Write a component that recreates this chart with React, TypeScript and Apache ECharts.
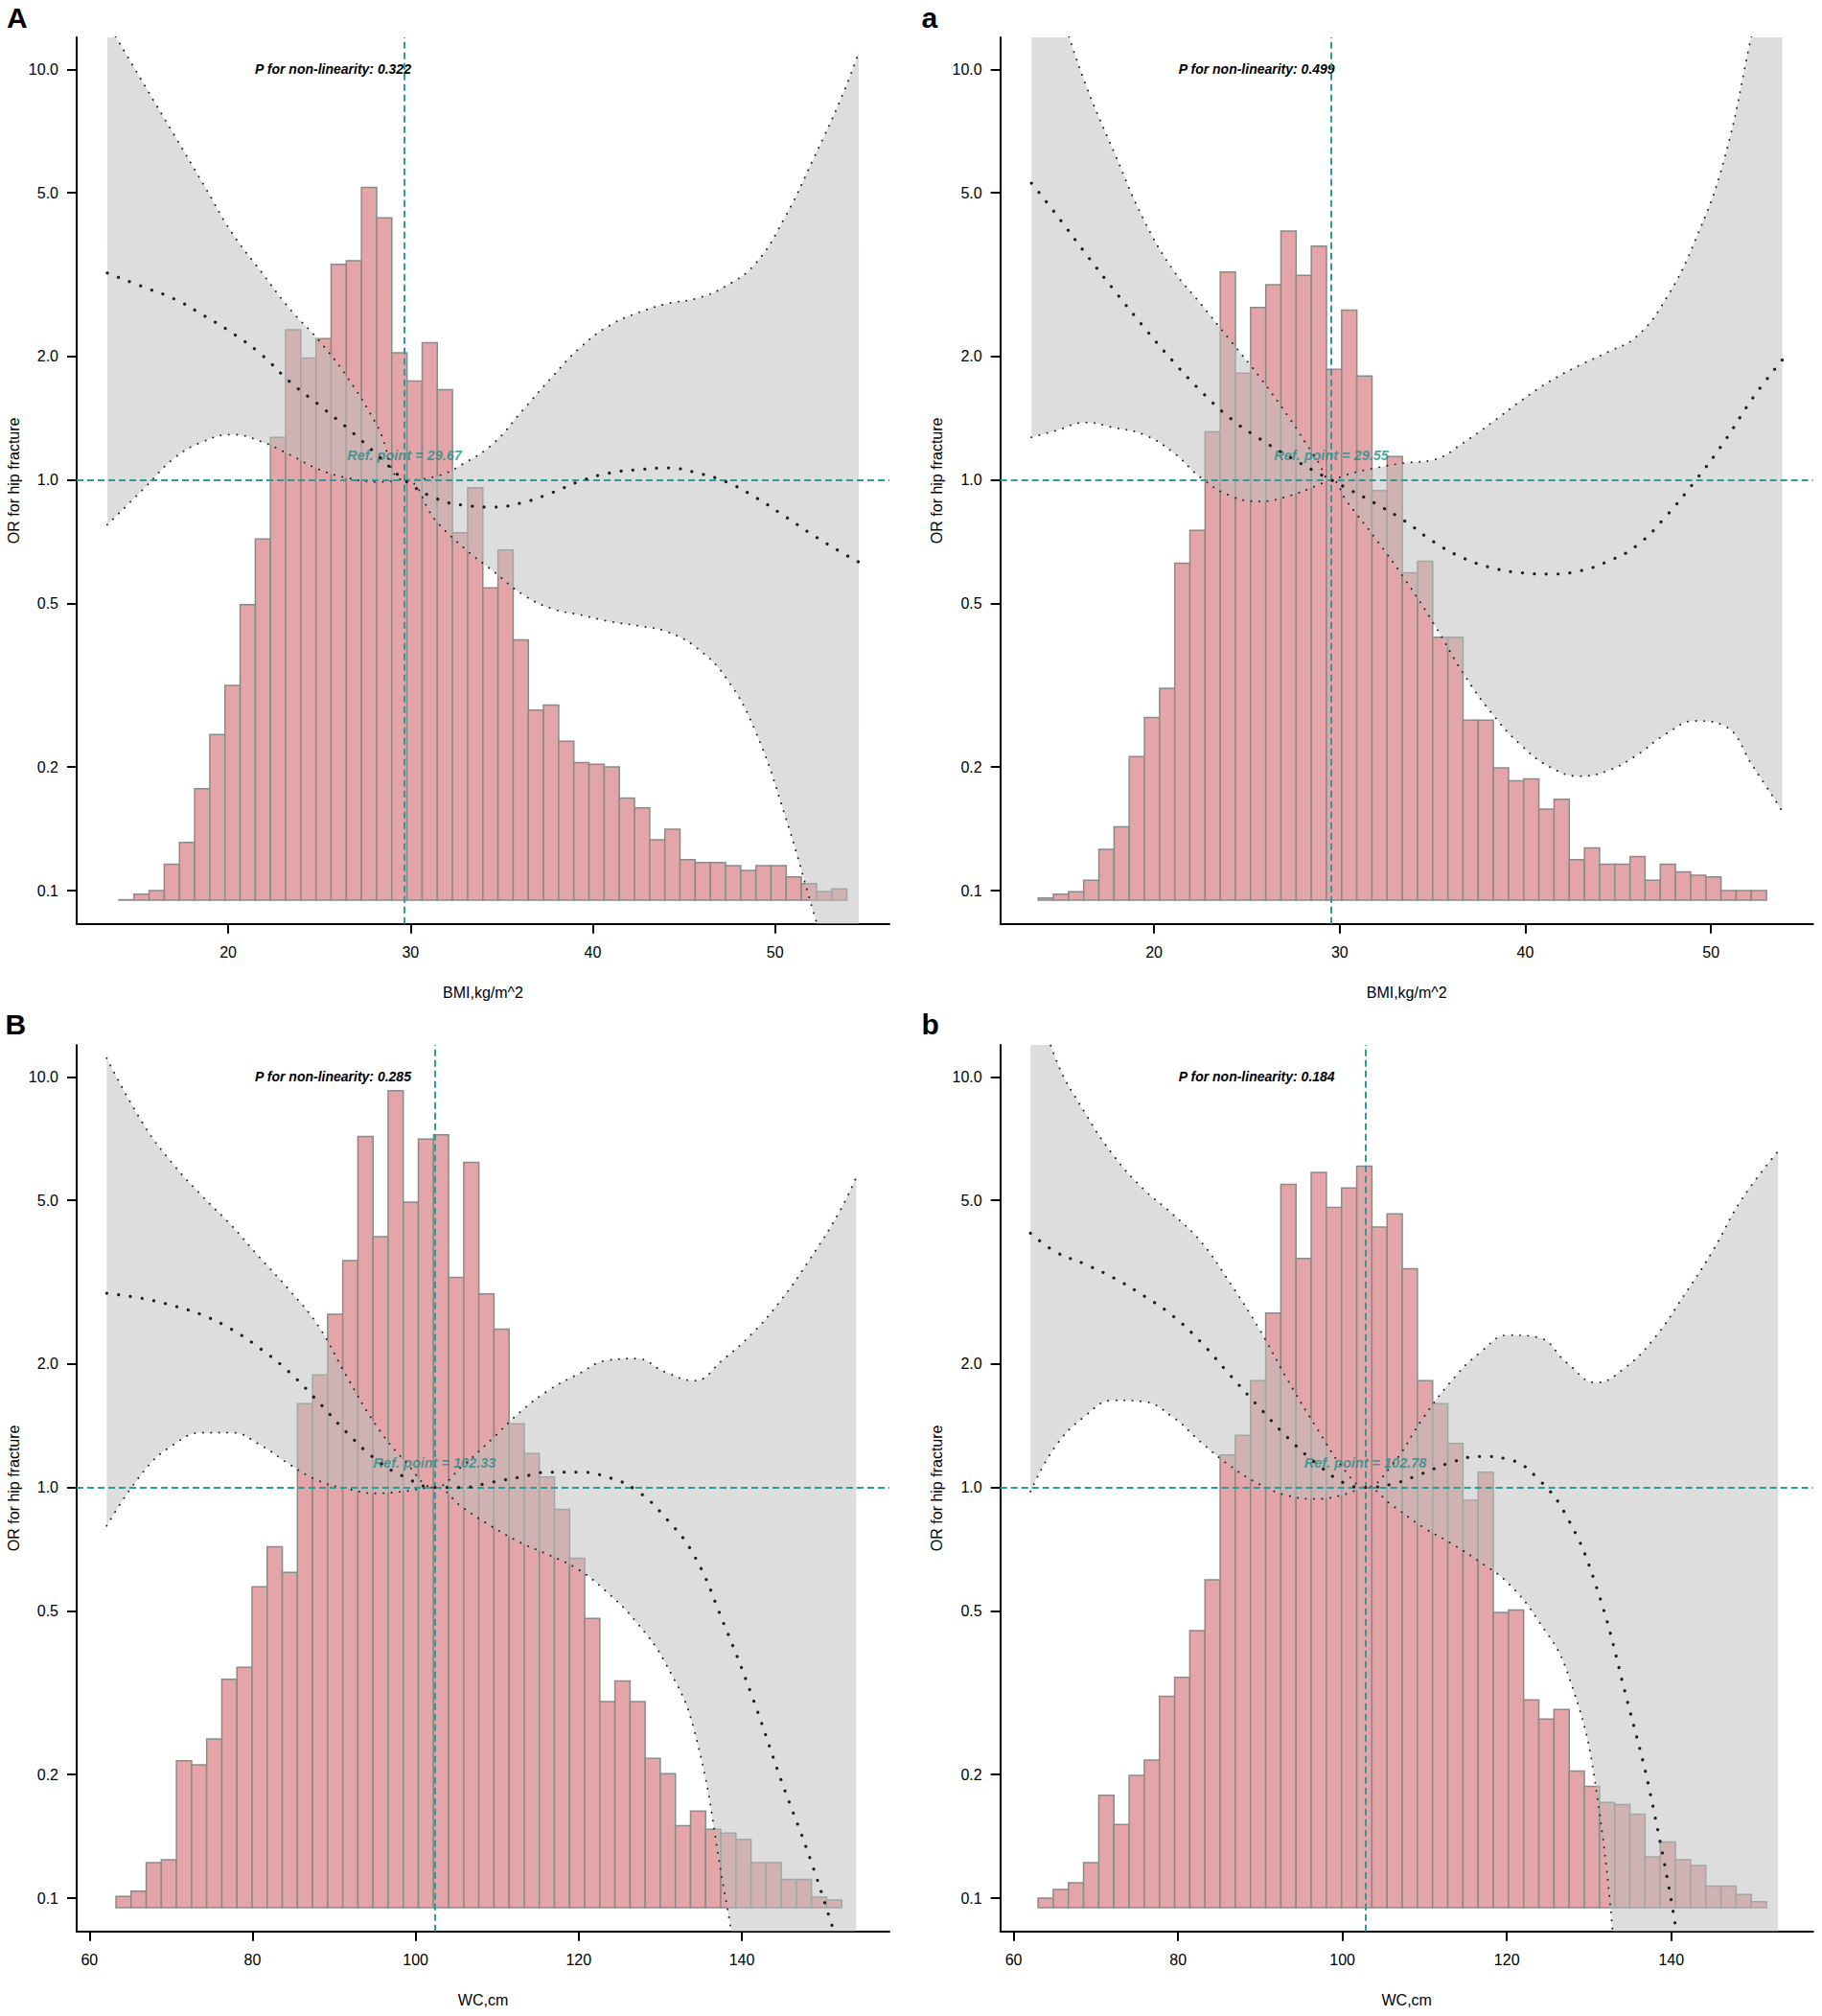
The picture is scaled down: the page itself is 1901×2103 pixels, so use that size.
import React, { useEffect, useRef } from "react";
import * as echarts from "echarts";

// ---------------- texts ----------------
const PANEL_LABELS = ["A", "a", "B", "b"];
const X_TITLES = ["BMI,kg/m^2", "BMI,kg/m^2", "WC,cm", "WC,cm"];
const Y_TITLE = "OR for hip fracture";
const P_VALUES = ["0.322", "0.499", "0.285", "0.184"];
const REF_POINTS = [29.67, 29.55, 102.33, 102.78];

// ---------------- axes ----------------
const OR_TICKS = [0.1, 0.2, 0.5, 1, 2, 5, 10];
const BMI_TICKS = [20, 30, 40, 50];
const WC_TICKS = [60, 80, 100, 120, 140];
const X_LIMITS = [
  [11.69, 56.27],
  [11.72, 55.5],
  [58.44, 158.1],
  [58.38, 157.25],
];
const OR_LIMITS = [0.083, 11.96];
const HIST_BASE = 0.0948;

// ---------------- histograms (heights read on the OR axis) ----------------
const HIST_A_START = 14.0;
const HIST_A_WIDTH = 0.832;
const HIST_A = [
  0.095, 0.098, 0.1, 0.116, 0.131, 0.177, 0.24, 0.316, 0.497, 0.718,
  1.27, 2.32, 1.98, 2.21, 3.35, 3.42, 5.16, 4.35, 2.04, 1.74,
  2.16, 1.66, 0.744, 0.958, 0.546, 0.675, 0.408, 0.275, 0.283, 0.231,
  0.205, 0.203, 0.2, 0.168, 0.159, 0.133, 0.141, 0.119, 0.117, 0.117,
  0.115, 0.112, 0.115, 0.115, 0.108, 0.104, 0.0995, 0.101,
];

const HIST_a_START = 13.76;
const HIST_a_WIDTH = 0.8173;
const HIST_a = [
  0.096, 0.098, 0.0993, 0.106, 0.126, 0.143, 0.212, 0.264, 0.311, 0.627,
  0.754, 1.31, 3.21, 1.82, 2.63, 2.99, 4.04, 3.15, 3.71, 1.86,
  2.59, 1.79, 0.942, 1.14, 0.594, 0.634, 0.414, 0.414, 0.26, 0.26,
  0.199, 0.185, 0.187, 0.158, 0.167, 0.119, 0.127, 0.116, 0.116, 0.121,
  0.106, 0.116, 0.111, 0.109, 0.108, 0.1, 0.1, 0.1,
];

const HIST_B_START = 63.26;
const HIST_B_WIDTH = 1.854;
const HIST_B = [
  0.101, 0.104, 0.122, 0.124, 0.216, 0.211, 0.244, 0.341, 0.365, 0.573,
  0.717, 0.621, 1.6, 1.88, 2.64, 3.57, 7.16, 4.08, 9.25, 4.95,
  7.05, 7.23, 3.25, 6.19, 2.96, 2.43, 1.43, 1.21, 1.06, 0.885,
  0.672, 0.48, 0.301, 0.338, 0.301, 0.219, 0.201, 0.15, 0.163, 0.147,
  0.144, 0.139, 0.122, 0.122, 0.111, 0.111, 0.1005, 0.099,
];

const HIST_b_START = 62.97;
const HIST_b_WIDTH = 1.846;
const HIST_b = [
  0.1, 0.105, 0.109, 0.122, 0.178, 0.151, 0.199, 0.217, 0.31, 0.345,
  0.448, 0.596, 1.2, 1.34, 1.82, 2.66, 5.47, 3.61, 5.85, 4.81,
  5.36, 6.06, 4.31, 4.64, 3.41, 1.82, 1.6, 1.28, 0.931, 1.09,
  0.496, 0.503, 0.304, 0.273, 0.288, 0.204, 0.187, 0.171, 0.169, 0.16,
  0.126, 0.137, 0.124, 0.12, 0.107, 0.107, 0.102, 0.098,
];

// ---------------- spline curves (OR with 95% CI) ----------------
const CURVE_A_X = [13.37, 15.44, 17.04, 18.63, 20.22, 21.82, 23.41, 25.0, 26.6, 28.19, 29.67, 31.39, 32.97, 34.57, 36.16, 37.76, 39.35, 40.94, 42.54, 44.13, 45.73, 47.32, 48.91, 50.51, 52.1, 53.69, 54.59];
const CURVE_A_OR = [3.19, 2.94, 2.76, 2.52, 2.28, 2.02, 1.73, 1.52, 1.33, 1.15, 1.0, 0.902, 0.867, 0.859, 0.881, 0.931, 0.995, 1.04, 1.06, 1.07, 1.04, 0.989, 0.908, 0.817, 0.733, 0.664, 0.631];
const CURVE_A_UPPER = [13.0, 9.1, 6.92, 5.26, 3.99, 3.21, 2.6, 2.18, 1.76, 1.35, 1.0, 1.02, 1.1, 1.23, 1.48, 1.78, 2.11, 2.38, 2.56, 2.69, 2.77, 2.97, 3.36, 4.34, 6.05, 8.65, 11.0];
const CURVE_A_LOWER = [0.778, 0.959, 1.13, 1.24, 1.29, 1.24, 1.15, 1.06, 1.01, 0.989, 1.0, 0.796, 0.681, 0.598, 0.526, 0.486, 0.469, 0.452, 0.441, 0.426, 0.389, 0.329, 0.245, 0.154, 0.0887, 0.0509, 0.0363];

const CURVE_a_X = [13.4, 14.75, 16.31, 17.87, 19.44, 21.0, 22.56, 24.13, 25.69, 27.26, 28.82, 29.55, 30.38, 31.95, 33.51, 35.08, 36.64, 38.2, 39.77, 41.33, 42.9, 44.46, 46.02, 47.59, 49.15, 50.72, 52.28, 53.84];
const CURVE_a_OR = [5.28, 4.42, 3.56, 2.89, 2.36, 1.95, 1.64, 1.41, 1.26, 1.14, 1.04, 1.0, 0.955, 0.875, 0.794, 0.706, 0.646, 0.611, 0.594, 0.59, 0.6, 0.634, 0.693, 0.817, 0.995, 1.24, 1.59, 1.96];
const CURVE_a_UPPER = [22.0, 14.8, 9.2, 6.25, 4.31, 3.26, 2.67, 2.18, 1.78, 1.42, 1.11, 1.0, 1.03, 1.07, 1.1, 1.12, 1.23, 1.38, 1.56, 1.74, 1.9, 2.05, 2.24, 2.77, 3.83, 6.05, 12.6, 24.7];
const CURVE_a_LOWER = [1.27, 1.32, 1.38, 1.34, 1.29, 1.17, 1.01, 0.914, 0.887, 0.914, 0.971, 1.0, 0.887, 0.718, 0.573, 0.446, 0.339, 0.27, 0.226, 0.2, 0.19, 0.196, 0.214, 0.241, 0.259, 0.252, 0.2, 0.156];

const CURVE_B_X = [62.13, 66.74, 70.29, 73.84, 77.39, 80.94, 84.49, 88.03, 91.58, 95.13, 98.68, 102.33, 105.78, 109.33, 112.87, 116.42, 119.97, 123.52, 127.07, 130.62, 134.17, 137.71, 141.26, 144.81, 148.36, 151.91, 154.04];
const CURVE_B_OR = [2.97, 2.88, 2.77, 2.63, 2.43, 2.18, 1.91, 1.62, 1.36, 1.17, 1.06, 1.0, 1.0, 1.03, 1.06, 1.09, 1.09, 1.06, 0.984, 0.845, 0.682, 0.47, 0.31, 0.194, 0.125, 0.0759, 0.0562];
const CURVE_B_UPPER = [11.1, 7.6, 6.12, 5.12, 4.35, 3.62, 3.03, 2.48, 1.86, 1.42, 1.16, 1.0, 1.13, 1.31, 1.53, 1.73, 1.89, 2.04, 2.06, 1.91, 1.82, 2.05, 2.37, 2.86, 3.6, 4.67, 5.7];
const CURVE_B_LOWER = [0.807, 1.1, 1.27, 1.36, 1.36, 1.27, 1.14, 1.04, 0.993, 0.968, 0.979, 1.0, 0.893, 0.804, 0.734, 0.684, 0.631, 0.555, 0.47, 0.374, 0.256, 0.108, 0.0406, 0.0131, 0.00437, 0.00123, 0.00055];

const CURVE_b_X = [62.05, 65.09, 68.63, 72.16, 75.7, 79.24, 82.77, 86.31, 89.84, 93.38, 96.92, 100.45, 102.78, 106.11, 109.65, 113.18, 116.72, 120.25, 123.79, 127.33, 130.86, 134.4, 137.94, 141.47, 145.01, 148.54, 153.0];
const CURVE_b_OR = [4.16, 3.75, 3.5, 3.24, 2.94, 2.63, 2.26, 1.88, 1.57, 1.32, 1.14, 1.02, 1.0, 1.02, 1.08, 1.15, 1.19, 1.17, 1.05, 0.846, 0.575, 0.316, 0.161, 0.063, 0.0158, 0.005, 0.001];
const CURVE_b_UPPER = [17.7, 11.1, 8.2, 6.43, 5.35, 4.65, 3.97, 3.15, 2.44, 1.82, 1.39, 1.09, 1.0, 1.14, 1.46, 1.81, 2.13, 2.35, 2.32, 2.01, 1.8, 1.96, 2.31, 2.92, 3.76, 5.02, 6.59];
const CURVE_b_LOWER = [0.978, 1.26, 1.49, 1.63, 1.62, 1.49, 1.29, 1.13, 1.02, 0.955, 0.938, 0.964, 1.0, 0.903, 0.804, 0.732, 0.659, 0.582, 0.475, 0.356, 0.184, 0.0398, 0.0113, 0.00316, 0.001, 0.000316, 0.0001];

// ---------------- layout & style ----------------
const CHART_W = 1901;
const CHART_H = 2103;
const GRID_LEFT = [80, 1043.7, 80, 1043.7];
const GRID_TOP = [39, 39, 1090, 1090];
const PLOT_W = 848;
const PLOT_H = 924.7;
const PANEL_TOP = [0, 0, 1050, 1050];
const LETTER_X = [7, 961.5, 5.5, 961.5];

const FONT = '"Liberation Sans", Arial, Helvetica, sans-serif';
const PINK = "#E3A5A8";
const BAR_EDGE = "#8A8A8A";
const BAND = "rgb(190,190,190)";
const TEAL = "#2F9B96";
const TEAL_TEXT = "#1F8E88";
const DOT = "#1E1E1E";

const L = (v: number) => Math.log10(v);

const PANELS = [
  { hist: HIST_A, start: HIST_A_START, width: HIST_A_WIDTH, x: CURVE_A_X, or: CURVE_A_OR, hi: CURVE_A_UPPER, lo: CURVE_A_LOWER, ticks: BMI_TICKS },
  { hist: HIST_a, start: HIST_a_START, width: HIST_a_WIDTH, x: CURVE_a_X, or: CURVE_a_OR, hi: CURVE_a_UPPER, lo: CURVE_a_LOWER, ticks: BMI_TICKS },
  { hist: HIST_B, start: HIST_B_START, width: HIST_B_WIDTH, x: CURVE_B_X, or: CURVE_B_OR, hi: CURVE_B_UPPER, lo: CURVE_B_LOWER, ticks: WC_TICKS },
  { hist: HIST_b, start: HIST_b_START, width: HIST_b_WIDTH, x: CURVE_b_X, or: CURVE_b_OR, hi: CURVE_b_UPPER, lo: CURVE_b_LOWER, ticks: WC_TICKS },
];

function buildOption() {
  const grids: any[] = [];
  const xAxes: any[] = [];
  const yAxes: any[] = [];
  const series: any[] = [];
  const graphics: any[] = [];
  const yTickVals = OR_TICKS.map(L);
  const SM = 0.45;

  PANELS.forEach((p, i) => {
    grids.push({
      left: GRID_LEFT[i],
      top: GRID_TOP[i],
      width: PLOT_W,
      height: PLOT_H,
      containLabel: false,
      outerBoundsMode: "none",
    });
    xAxes.push({
      type: "value",
      gridIndex: i,
      min: X_LIMITS[i][0],
      max: X_LIMITS[i][1],
      axisLine: { show: true, onZero: false, lineStyle: { color: "#000", width: 2 } },
      axisTick: { show: true, length: 10, lineStyle: { color: "#000", width: 2 }, customValues: p.ticks },
      axisLabel: { show: true, customValues: p.ticks, margin: 22, color: "#000", fontSize: 16, fontFamily: FONT },
      splitLine: { show: false },
      name: X_TITLES[i],
      nameLocation: "middle",
      nameGap: 64,
      nameTextStyle: { color: "#000", fontSize: 16, fontFamily: FONT },
    });
    yAxes.push({
      type: "value",
      gridIndex: i,
      min: L(OR_LIMITS[0]),
      max: L(OR_LIMITS[1]),
      axisLine: { show: true, onZero: false, lineStyle: { color: "#000", width: 2 } },
      axisTick: { show: true, length: 10, lineStyle: { color: "#000", width: 2 }, customValues: yTickVals },
      axisLabel: {
        show: true,
        customValues: yTickVals,
        margin: 19,
        color: "#000",
        fontSize: 16,
        fontFamily: FONT,
        formatter: (v: number) => Math.pow(10, v).toFixed(1),
      },
      splitLine: { show: false },
      name: Y_TITLE,
      nameLocation: "middle",
      nameGap: 58,
      nameRotate: 90,
      nameTextStyle: { color: "#000", fontSize: 16, fontFamily: FONT },
    });

    // histogram bars
    const base = L(HIST_BASE);
    series.push({
      type: "custom",
      xAxisIndex: i,
      yAxisIndex: i,
      z: 1,
      silent: true,
      encode: { x: [0, 1], y: 2 },
      data: p.hist.map((h, k) => [p.start + k * p.width, p.start + (k + 1) * p.width, L(h)]),
      renderItem: (params: any, api: any) => {
        const p0 = api.coord([api.value(0), api.value(2)]);
        const p1 = api.coord([api.value(1), base]);
        return {
          type: "rect",
          shape: { x: p0[0], y: p0[1], width: p1[0] - p0[0], height: p1[1] - p0[1] },
          style: { fill: PINK, stroke: BAR_EDGE, lineWidth: 1.5 },
        };
      },
    });

    // confidence band (stacked on the value dimension, which is put first
    // so that ECharts stacks y and not x)
    series.push({
      type: "line",
      xAxisIndex: i,
      yAxisIndex: i,
      stack: "band" + i,
      stackStrategy: "all",
      z: 2,
      silent: true,
      smooth: SM,
      symbol: "none",
      showSymbol: false,
      lineStyle: { width: 0, opacity: 0 },
      dimensions: ["v", "xv"],
      encode: { x: "xv", y: "v" },
      data: p.x.map((x, k) => [L(p.lo[k]), x]),
    });
    series.push({
      type: "line",
      xAxisIndex: i,
      yAxisIndex: i,
      stack: "band" + i,
      stackStrategy: "all",
      z: 2,
      silent: true,
      smooth: SM,
      symbol: "none",
      showSymbol: false,
      lineStyle: { width: 0, opacity: 0 },
      areaStyle: { color: BAND, opacity: 0.52 },
      dimensions: ["v", "xv"],
      encode: { x: "xv", y: "v" },
      data: p.x.map((x, k) => [L(p.hi[k]) - L(p.lo[k]), x]),
    });

    // reference lines + label
    series.push({
      type: "scatter",
      xAxisIndex: i,
      yAxisIndex: i,
      z: 3,
      silent: true,
      symbol: "circle",
      symbolSize: 1,
      itemStyle: { color: "rgba(0,0,0,0)" },
      data: [[REF_POINTS[i], 0]],
      label: {
        show: true,
        position: "top",
        distance: 18,
        formatter: "Ref. point = " + REF_POINTS[i].toFixed(2),
        color: TEAL_TEXT,
        fontSize: 14.5,
        fontWeight: "bold",
        fontStyle: "italic",
        fontFamily: FONT,
      },
      markLine: {
        silent: true,
        symbol: "none",
        label: { show: false },
        lineStyle: { color: TEAL, type: [7, 4], width: 2 },
        data: [{ xAxis: REF_POINTS[i] }, { yAxis: 0 }],
      },
    });

    // CI borders
    const ciStyle = { color: DOT, width: 1.9, type: [0.1, 8.4], cap: "round" };
    series.push({
      type: "line",
      xAxisIndex: i,
      yAxisIndex: i,
      z: 4,
      silent: true,
      smooth: SM,
      symbol: "none",
      showSymbol: false,
      lineStyle: ciStyle,
      data: p.x.map((x, k) => [x, L(p.hi[k])]),
    });
    series.push({
      type: "line",
      xAxisIndex: i,
      yAxisIndex: i,
      z: 4,
      silent: true,
      smooth: SM,
      symbol: "none",
      showSymbol: false,
      lineStyle: ciStyle,
      data: p.x.map((x, k) => [x, L(p.lo[k])]),
    });
    // OR curve
    series.push({
      type: "line",
      xAxisIndex: i,
      yAxisIndex: i,
      z: 5,
      silent: true,
      smooth: SM,
      symbol: "none",
      showSymbol: false,
      lineStyle: { color: DOT, width: 3.2, type: [0.1, 12.3], cap: "round" },
      data: p.x.map((x, k) => [x, L(p.or[k])]),
    });

    // panel letter
    graphics.push({
      type: "text",
      x: LETTER_X[i],
      y: PANEL_TOP[i] + 18.8,
      style: {
        text: PANEL_LABELS[i],
        fill: "#000",
        fontSize: 30,
        fontWeight: "bold",
        fontFamily: FONT,
        textAlign: "left",
        align: "left",
        textVerticalAlign: "middle",
        verticalAlign: "middle",
      },
    });
    // P for non-linearity
    graphics.push({
      type: "text",
      x: GRID_LEFT[i] + 267.5,
      y: GRID_TOP[i] + 33.3,
      style: {
        text: "P for non-linearity: " + P_VALUES[i],
        fill: "#000",
        fontSize: 14,
        fontWeight: "bold",
        fontStyle: "italic",
        fontFamily: FONT,
        textAlign: "center",
        align: "center",
        textVerticalAlign: "middle",
        verticalAlign: "middle",
      },
    });
  });

  return {
    animation: false,
    backgroundColor: "#ffffff",
    grid: grids,
    xAxis: xAxes,
    yAxis: yAxes,
    series,
    graphic: { elements: graphics },
  };
}

export default function App() {
  const ref = useRef<HTMLDivElement | null>(null);
  useEffect(() => {
    if (!ref.current) return;
    const chart = echarts.init(ref.current, null, { renderer: "svg" });
    chart.setOption(buildOption() as any);
    return () => {
      chart.dispose();
    };
  }, []);
  return (
    <div
      ref={ref}
      style={{
        position: "absolute",
        left: 0,
        top: 0,
        width: CHART_W,
        height: CHART_H,
        background: "#fff",
      }}
    />
  );
}
